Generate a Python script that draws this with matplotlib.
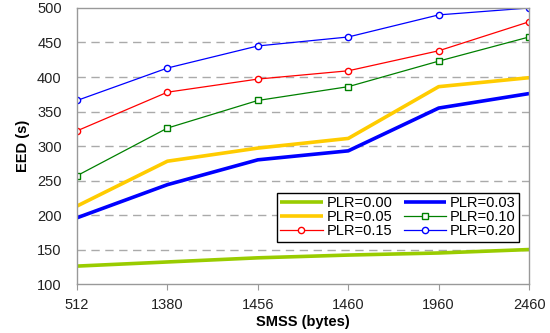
import matplotlib
matplotlib.use("Agg")
import matplotlib.pyplot as plt

categories = ["512", "1380", "1456", "1460", "1960", "2460"]
plr000 = [126, 132, 138, 142, 145, 150]
plr003 = [196, 244, 280, 293, 355, 376]
plr005 = [213, 278, 297, 311, 386, 399]
plr010 = [257, 326, 366, 386, 423, 458]
plr015 = [322, 378, 397, 409, 438, 480]
plr020 = [366, 413, 445, 458, 490, 500]

plt.rcParams['font.family'] = ['Liberation Sans', 'DejaVu Sans']

fig = plt.figure(figsize=(5.5, 3.33), dpi=100)
ax = fig.add_axes([0.14, 0.147, 0.822, 0.829])
x = list(range(len(categories)))

gray = "#999999"
for yv in [150, 200, 250, 300, 350, 400, 450]:
    ax.axhline(yv, color="#aaaaaa", lw=1.0, ls=(0, (6, 4)), zorder=0)

h0, = ax.plot(x, plr000, color="#99CC00", lw=2.6, label="PLR=0.00", solid_capstyle='butt')
h5, = ax.plot(x, plr005, color="#FFCC00", lw=2.6, label="PLR=0.05", solid_capstyle='butt')
h3, = ax.plot(x, plr003, color="#0000FF", lw=2.6, label="PLR=0.03", solid_capstyle='butt')
h10, = ax.plot(x, plr010, color="#008000", lw=0.9, marker="s", ms=4, mfc="white", mew=1, label="PLR=0.10")
h15, = ax.plot(x, plr015, color="#FF0000", lw=0.9, marker="o", ms=4.5, mfc="white", mew=1, label="PLR=0.15")
h20, = ax.plot(x, plr020, color="#0000FF", lw=0.9, marker="o", ms=4.5, mfc="white", mew=1, label="PLR=0.20")

ax.set_xlim(0, len(categories) - 1)
ax.set_ylim(100, 500)
ax.set_xticks(x)
ax.set_xticklabels(categories)
ax.set_yticks([100, 150, 200, 250, 300, 350, 400, 450, 500])
ax.tick_params(axis='x', length=4, color=gray, labelsize=10.5, pad=6)
ax.tick_params(axis='y', length=0, labelsize=10.5, pad=11)
for s in ax.spines.values():
    s.set_color(gray)
    s.set_linewidth(1.0)
for lab in ax.get_xticklabels() + ax.get_yticklabels():
    lab.set_color("#222222")

ax.set_xlabel("SMSS (bytes)", fontsize=10.5, fontweight='bold', labelpad=2)
ax.set_ylabel("EED (s)", fontsize=10.5, fontweight='bold', labelpad=5)

leg = ax.legend(handles=[h0, h5, h15, h3, h10, h20], ncol=2, loc='lower right',
                bbox_to_anchor=(0.978, 0.152), fontsize=10.5, frameon=True, fancybox=False,
                edgecolor='black', framealpha=1, handlelength=2.9, handletextpad=0.25,
                columnspacing=0.8, labelspacing=0.0, borderpad=0.25, borderaxespad=0)
leg.get_frame().set_linewidth(1.0)

fig.savefig("out.png", dpi=100)
